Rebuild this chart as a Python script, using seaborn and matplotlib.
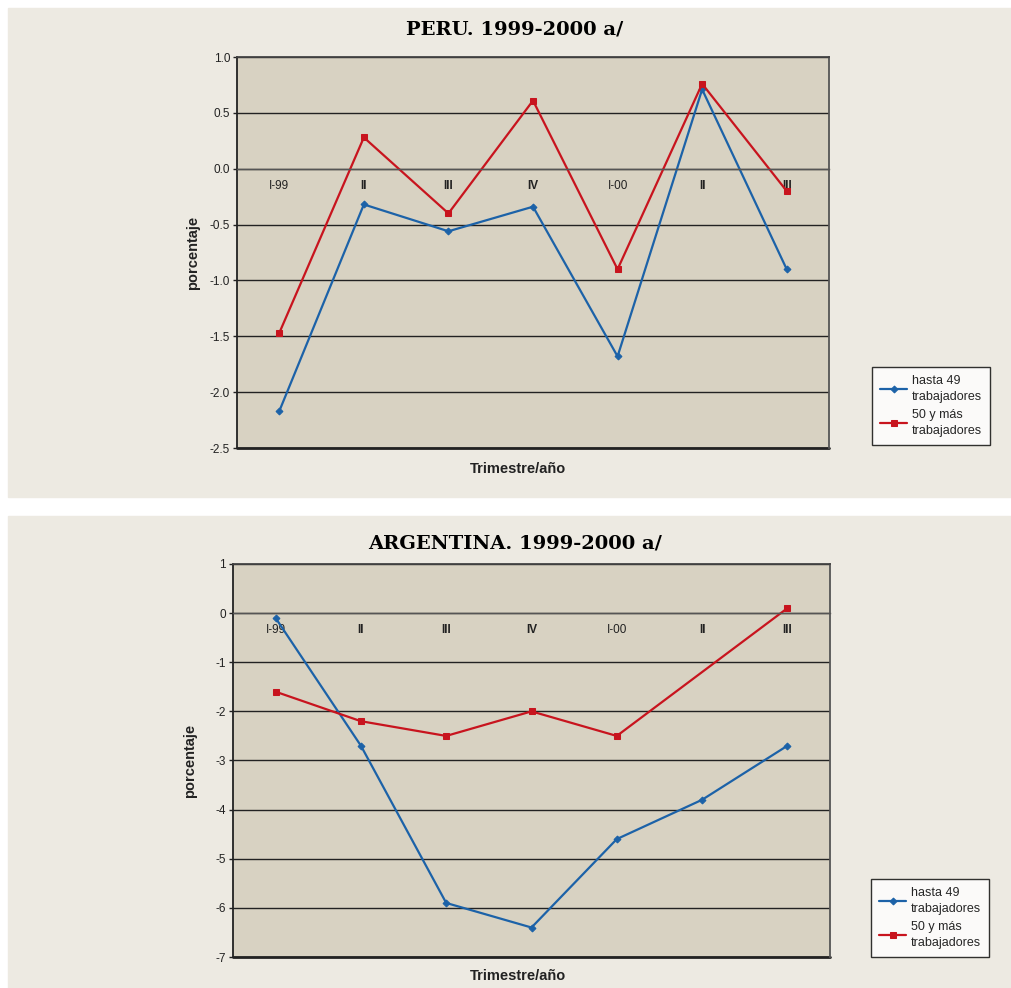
import numpy as np
import pandas as pd
import matplotlib
matplotlib.use("Agg")
import matplotlib.pyplot as plt
import seaborn as sns
from matplotlib.patches import Rectangle
from matplotlib.ticker import FixedLocator, FuncFormatter

# ---- datos ----
trimestres = ["I-99", "II", "III", "IV", "I-00", "II", "III"]
peru_hasta49 = [-2.17, -0.32, -0.56, -0.34, -1.68, 0.71, -0.90]
peru_50mas = [-1.47, 0.28, -0.40, 0.61, -0.90, 0.76, -0.20]
arg_hasta49 = [-0.1, -2.7, -5.9, -6.4, -4.6, -3.8, -2.7]
arg_50mas = [-1.6, -2.2, -2.5, -2.0, -2.5, np.nan, 0.1]

AZUL = "#1c62a8"
ROJO = "#c8141e"
FONDO = "#edeae2"
AREA = "#d8d2c2"

sns.set_style("white")
plt.rcParams["font.family"] = ["Liberation Sans", "DejaVu Sans"]

fig = plt.figure(figsize=(10.11, 9.88), dpi=100)
fig.patch.set_facecolor("white")
W, H = 1011, 988


def fx(px):
    return px / W


def fy(py):
    return 1 - py / H


# paneles de fondo
fig.patches.append(Rectangle((fx(8), fy(497)), 1 - fx(8), fy(8) - fy(497),
                             transform=fig.transFigure, color=FONDO, zorder=-10))
fig.patches.append(Rectangle((fx(8), 0), 1 - fx(8), fy(516),
                             transform=fig.transFigure, color=FONDO, zorder=-10))


def grafico(rect, serie1, serie2, ylim, yticks, fmt, titulo, tit_y, xlab_y, ylab_x, leg_xy):
    ax = fig.add_axes(rect)
    ax.set_facecolor(AREA)
    pos = np.arange(len(trimestres))
    df = pd.DataFrame({"pos": pos, "a": serie1, "b": serie2})
    sns.lineplot(data=df.dropna(subset=["a"]), x="pos", y="a", ax=ax, color=AZUL,
                 marker="D", markersize=3.5, markeredgecolor=AZUL, linewidth=1.6,
                 label="hasta 49\ntrabajadores", legend=False)
    sns.lineplot(data=df.dropna(subset=["b"]), x="pos", y="b", ax=ax, color=ROJO,
                 marker="s", markersize=4.5, markeredgecolor=ROJO, linewidth=1.6,
                 label="50 y más\ntrabajadores", legend=False)
    ax.set_xlim(-0.5, len(trimestres) - 0.5)
    ax.set_ylim(*ylim)
    ax.set_yticks(yticks)
    ax.yaxis.set_major_formatter(FuncFormatter(fmt))
    ax.grid(True, axis="y", color="#222222", linewidth=1.0)
    ax.set_axisbelow(True)

    # eje de categorías en y=0
    ax.spines["bottom"].set_position(("data", 0))
    ax.spines["bottom"].set_color("#555555")
    ax.spines["bottom"].set_linewidth(1.0)
    ax.xaxis.set_major_locator(FixedLocator(pos))
    ax.set_xticklabels(trimestres)
    ax.xaxis.set_minor_locator(FixedLocator(np.arange(len(trimestres) + 1) - 0.5))
    ax.tick_params(axis="x", which="major", length=0, pad=8, labelsize=8.5, colors="#222222")
    ax.tick_params(axis="x", which="minor", length=3, width=1, color="#555555", direction="out")
    ax.tick_params(axis="y", length=3, width=1, direction="out", labelsize=8.5,
                   colors="#222222", pad=2, left=True)
    ax.spines["left"].set_color("#222222")
    ax.spines["left"].set_linewidth(1.3)
    ax.spines["right"].set_color("#555555")
    ax.spines["right"].set_linewidth(1.3)
    ax.spines["top"].set_color("#444444")
    ax.spines["top"].set_linewidth(1.3)
    for lab in ax.get_xticklabels():
        if lab.get_text() in ("II", "III", "IV"):
            lab.set_fontweight("bold")
    ax.axhline(ylim[0], color="#222222", linewidth=2, clip_on=False)
    ax.set_xlabel("")
    ax.set_ylabel("")

    fig.text(fx(515), fy(tit_y), titulo, ha="center", va="center",
             fontsize=14, fontweight="heavy", family="DejaVu Serif", color="black")
    fig.text(fx(518), fy(xlab_y), "Trimestre/año", ha="center", va="center",
             fontsize=10.5, fontweight="bold", color="#222222")
    fig.text(fx(ylab_x), rect[1] + rect[3] / 2, "porcentaje", ha="center", va="center",
             rotation=90, fontsize=10.5, fontweight="bold", color="#222222")
    h, l = ax.get_legend_handles_labels()
    leg = fig.legend(h, l, loc="upper left", bbox_to_anchor=(fx(leg_xy[0]), fy(leg_xy[1])),
                     frameon=True, fancybox=False, fontsize=9, handlelength=2.2,
                     borderpad=0.6, labelspacing=0.5, handletextpad=0.4)
    for t in leg.get_texts():
        t.set_linespacing(1.45)
    leg.get_frame().set_edgecolor("black")
    leg.get_frame().set_linewidth(1.0)
    leg.get_frame().set_facecolor("white")
    return ax


grafico([fx(237), fy(448), fx(829) - fx(237), fy(57) - fy(448)],
        peru_hasta49, peru_50mas, (-2.5, 1.0), np.arange(-2.5, 1.01, 0.5),
        lambda v, p: f"{v:.1f}", "PERU. 1999-2000 a/", 30, 469, 193, (866, 361))

grafico([fx(233), fy(957), fx(830) - fx(233), fy(564) - fy(957)],
        arg_hasta49, arg_50mas, (-7, 1), np.arange(-7, 1.01, 1),
        lambda v, p: f"{v:.0f}", "ARGENTINA. 1999-2000 a/", 543, 976, 190, (865, 873))

fig.savefig("out.png", dpi=100, facecolor=fig.get_facecolor())
